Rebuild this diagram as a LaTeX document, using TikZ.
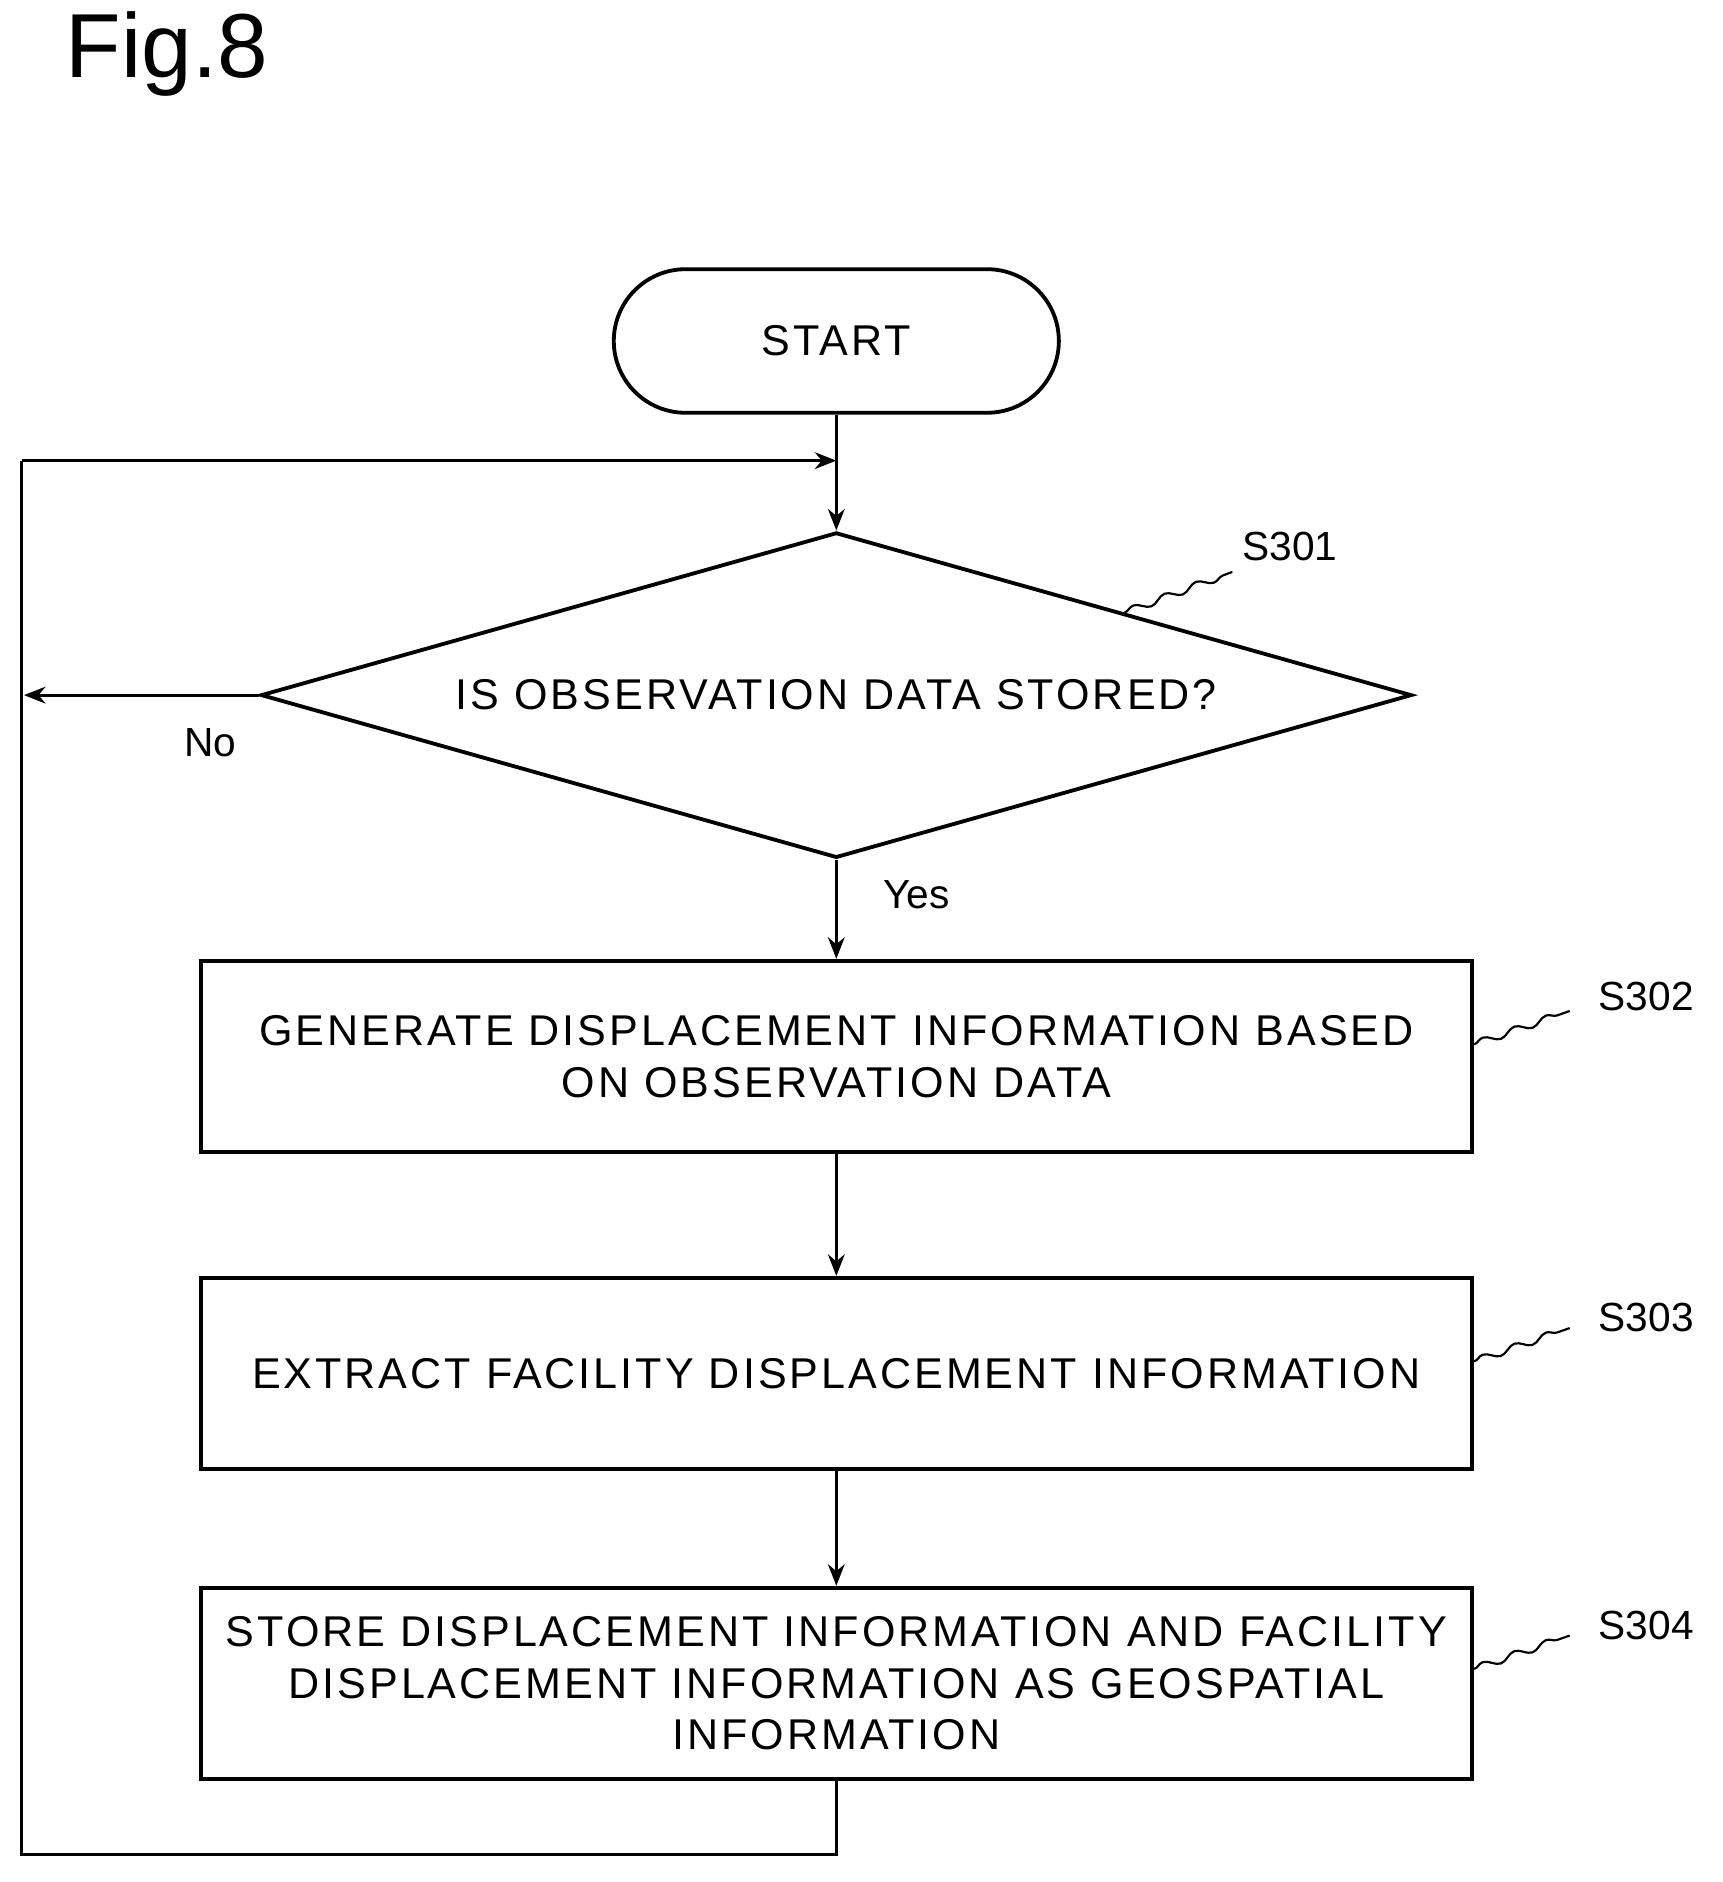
\documentclass[tikz,border=0pt]{standalone}
\usepackage{fontspec}
\setmainfont{Liberation Sans}
\newfontfamily\widef[LetterSpace=7]{Liberation Sans}
\usetikzlibrary{arrows.meta,shapes.geometric,decorations.pathmorphing}
\begin{document}
\begin{tikzpicture}[x=0.5pt,y=-0.5pt,
  line/.style={line width=1.3pt},
  arr/.style={line, -{Stealth[length=9pt,width=7pt]}},
  box/.style={draw,line width=1.6pt,minimum width=531pt,minimum height=80pt,align=center,font=\widef\fontsize{18}{21.5}\selectfont,inner sep=0pt},
  lbl/.style={font=\fontsize{17}{20}\selectfont},
  sq/.style={line width=0.9pt,decorate,decoration={snake,amplitude=1.5pt,segment length=14pt}}]
\useasboundingbox (0,0) rectangle (1440,1573);
\node[font=\fontsize{38}{40}\selectfont,anchor=west] (fig) at (48,45) {Fig.8};
\node[draw,line width=1.6pt,rounded corners=30pt,minimum width=186pt,minimum height=60pt,font=\widef\fontsize{18}{20}\selectfont] (start) at (699,285) {START};
\coordinate (top) at (699,385);
\node[draw,line width=1.6pt,diamond,aspect=3.54,inner sep=0pt,minimum width=481pt,minimum height=136pt,font=\widef\fontsize{18}{20}\selectfont] (d) at (699,581) {IS OBSERVATION DATA STORED?};
\node[box] (b2) at (699,883) {GENERATE DISPLACEMENT INFORMATION BASED\\ON OBSERVATION DATA};
\node[box] (b3) at (699,1148) {EXTRACT FACILITY DISPLACEMENT INFORMATION};
\node[box] (b4) at (699,1407) {STORE DISPLACEMENT INFORMATION AND FACILITY\\DISPLACEMENT INFORMATION AS GEOSPATIAL\\INFORMATION};
\coordinate (noend) at (20,581);
\coordinate (ll) at (18,1550);
\coordinate (lr) at (699,1550);
\coordinate (lt) at (18,385);
\draw[line] (start.south) -- (top);
\draw[arr] (top) -- (d.north);
\draw[arr] (d.west) -- (noend);
\draw[arr] (d.south) -- (b2.north);
\draw[arr] (b2.south) -- (b3.north);
\draw[arr] (b3.south) -- (b4.north);
\draw[line] (b4.south) -- (lr) -- (ll) -- (lt);
\draw[arr] (lt) -- (top);
\node[lbl] (no) at (176,621) {No};
\node[lbl] (yes) at (766,748) {Yes};
\node[lbl] (s301) at (1078,457) {S301};
\node[lbl] (s302) at (1376,833) {S302};
\node[lbl] (s303) at (1376,1101) {S303};
\node[lbl] (s304) at (1376,1359) {S304};
\draw[sq] (940,512) -- (1030,478);
\draw[sq] (1232,873) -- (1312,845);
\draw[sq] (1232,1138) -- (1312,1110);
\draw[sq] (1232,1395) -- (1312,1367);
\end{tikzpicture}
\end{document}
